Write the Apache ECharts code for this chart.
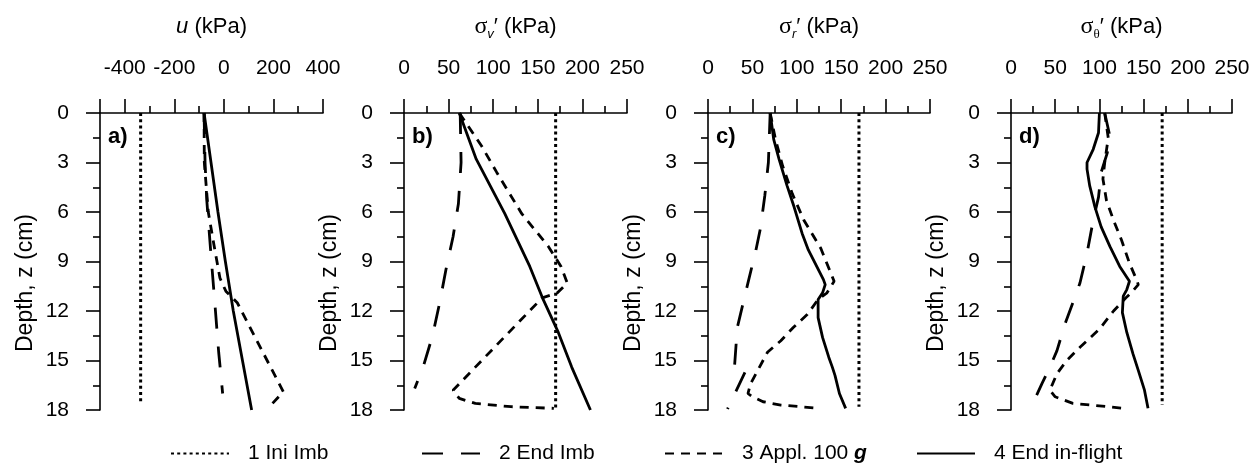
<!DOCTYPE html>
<html>
<head>
<meta charset="utf-8">
<script src="https://cdn.jsdelivr.net/npm/echarts@6/dist/echarts.min.js"></script>
<style>
html,body{margin:0;padding:0;background:#fff;}
#chart{width:1254px;height:463px;}
</style>
</head>
<body>
<div id="chart"></div>
<script>
// ---------- data ----------
const seriesNames = ['1 Ini Imb', '2 End Imb', '3 Appl. 100 g', '4 End in-flight'];
const panelLetters = ['a)', 'b)', 'c)', 'd)'];

// Panel a: pore pressure u (kPa)
const aIniDepth = [0, 17.6];
const aIniVal = [-336, -336];
const aEndDepth = [0, 3, 5.3, 9, 12, 14.5, 17];
const aEndVal = [-80, -76, -69, -50, -34, -21, -5];
const aApplDepth = [0, 3, 6, 8, 10, 10.8, 11.5, 16.9, 17.7];
const aApplVal = [-80, -79, -63, -40, -16, 8, 54, 240, 190];
const aFlightDepth = [0, 3, 6, 9, 12, 15, 18];
const aFlightVal = [-80, -52, -24, 6, 38, 75, 112];

// Panel b: sigma_v' (kPa)
const bIniDepth = [0, 17.9];
const bIniVal = [170, 170];
const bEndDepth = [0, 3, 5.5, 7.5, 9.5, 11.5, 13.5, 15.3, 16.7];
const bEndVal = [63, 64, 61, 55, 47, 40, 32, 22, 12];
const bApplDepth = [0, 2, 3.6, 6.1, 8.1, 9.3, 10.3, 10.9, 11.2, 16.8, 17.3, 17.6, 17.8, 17.9];
const bApplVal = [62, 87, 104, 132, 162, 176, 183, 172, 155, 55, 62, 80, 120, 168];
const bFlightDepth = [0, 2.8, 6.1, 9.3, 11.3, 13.3, 15.4, 18];
const bFlightVal = [62, 81, 113, 141, 156, 173, 188, 209];

// Panel c: sigma_r' (kPa)
const cIniDepth = [0, 17.8];
const cIniVal = [170, 170];
const cEndDepth = [0, 3, 5, 7, 8.3, 10.3, 13, 15.27, 15.45, 17.94];
const cEndVal = [70, 68, 64, 59, 54, 45, 33, 30, 44, 22];
const cApplDepth = [0, 1.6, 3.2, 4.9, 6.5, 8.2, 10.2, 10.9, 11.3, 12.2, 13, 13.8, 14.5, 15.4, 16.4, 17, 17.2, 17.5, 17.7, 17.9];
const cApplVal = [70, 76, 84, 95, 108, 127, 142, 134, 124, 112, 96, 82, 67, 58, 48, 45, 50, 62, 82, 126];
const cFlightDepth = [0, 1.6, 2.8, 4.4, 5.7, 7.3, 8.3, 10.1, 10.4, 10.9, 11.3, 12.4, 13.6, 14.8, 15.4, 15.9, 17, 17.9];
const cFlightVal = [70, 74, 80, 89, 97, 106, 113, 130, 132, 129, 124, 124, 129, 136, 140, 143, 148, 155];

// Panel d: sigma_theta' (kPa)
const dIniDepth = [0, 17.7];
const dIniVal = [171, 171];
const dEndDepth = [0, 1.2, 2.4, 3.6, 5.1, 6.5, 8.5, 10.3, 11.5, 12.8, 14.4, 15.4, 16.4, 17.8];
const dEndVal = [106, 111, 109, 102, 99, 93, 86, 78, 70, 61, 52, 44, 35, 23];
const dApplDepth = [0, 1.5, 3, 4, 5.3, 6.5, 7.7, 9.1, 10.1, 10.4, 10.9, 11.2, 12, 13.1, 14.2, 15, 15.8, 16.8, 17.2, 17.6, 17.7, 17.9];
const dApplVal = [106, 110, 106, 104, 108, 116, 125, 134, 142, 144, 136, 130, 116, 100, 78, 63, 52, 44, 50, 70, 91, 127];
const dFlightDepth = [0, 1.2, 2.2, 3.0, 3.4, 4.4, 5.7, 6.9, 8.1, 9.3, 10.2, 10.7, 11.1, 12.1, 13.3, 14.6, 15.6, 16.8, 17.9];
const dFlightVal = [100, 99, 93, 86, 86, 89, 95, 102, 112, 123, 134, 131, 127, 126, 131, 138, 144, 151, 155];

// axis ticks
const uLabelTicks = [-400, -200, 0, 200, 400];
const uMajorTicks = [-500, -400, -200, 0, 200, 400];
const uMinorTicks = [-300, -100, 100, 300];

// ---------- build ----------
const FONT = 'Liberation Sans, Arial, sans-serif';
const panels = [
  [[aIniVal, aIniDepth], [aEndVal, aEndDepth], [aApplVal, aApplDepth], [aFlightVal, aFlightDepth]],
  [[bIniVal, bIniDepth], [bEndVal, bEndDepth], [bApplVal, bApplDepth], [bFlightVal, bFlightDepth]],
  [[cIniVal, cIniDepth], [cEndVal, cEndDepth], [cApplVal, cApplDepth], [cFlightVal, cFlightDepth]],
  [[dIniVal, dIniDepth], [dEndVal, dEndDepth], [dApplVal, dApplDepth], [dFlightVal, dFlightDepth]]
];
const gridLeft = [100, 404, 708, 1011];
const gridWidth = [223, 223, 222, 221];
const GTOP = 113, GH = 297;

const lineStyles = [
  {type: [3, 3.2], width: 3},
  {type: [21, 18], width: 2.8},
  {type: [9, 7], width: 2.8},
  {type: 'solid', width: 2.8}
];

const titleRich = {
  n: {fontFamily: FONT, fontSize: 22, color: '#000', lineHeight: 28, verticalAlign: 'middle'},
  i: {fontFamily: FONT, fontSize: 22, fontStyle: 'italic', color: '#000', lineHeight: 28, verticalAlign: 'middle'},
  s: {fontFamily: 'Liberation Serif, serif', fontSize: 24, color: '#000', lineHeight: 28, verticalAlign: 'middle'},
  sub: {fontFamily: FONT, fontSize: 13, fontStyle: 'italic', color: '#000', lineHeight: 13, verticalAlign: 'bottom'},
  subn: {fontFamily: 'Liberation Serif, serif', fontSize: 13, color: '#000', lineHeight: 13, verticalAlign: 'bottom'}
};
const titles = [
  '{i|u}{n| (kPa)}',
  '{s|σ}{sub|v}{n|′ (kPa)}',
  '{s|σ}{sub|r}{n|′ (kPa)}',
  '{s|σ}{subn|θ}{n|′ (kPa)}'
];

const grids = [], xAxes = [], yAxes = [], series = [], graphics = [];
const axisLine = {show: true, onZero: false, lineStyle: {color: '#000', width: 1.6}};
const labelStyle = {color: '#000', fontFamily: FONT, fontSize: 21};

for (let p = 0; p < 4; p++) {
  grids.push({left: gridLeft[p], top: GTOP, width: gridWidth[p], height: GH});
  const nameOpt = {
    name: titles[p], nameLocation: 'middle', nameGap: 72,
    nameTextStyle: {rich: titleRich}
  };
  if (p === 0) {
    xAxes.push(Object.assign({
      type: 'value', gridIndex: 0, position: 'top', min: -500, max: 400, interval: 100,
      axisLine: axisLine,
      axisTick: {show: true, length: 14, inside: false, customValues: uMajorTicks, lineStyle: {color: '#000', width: 1.6}},
      axisLabel: Object.assign({margin: 34, customValues: uLabelTicks}, labelStyle),
      splitLine: {show: false}
    }, nameOpt));
    xAxes.push({
      type: 'value', gridIndex: 0, position: 'top', min: -500, max: 400, interval: 100,
      axisLine: {show: false},
      axisTick: {show: true, length: 7, customValues: uMinorTicks, lineStyle: {color: '#000', width: 1.6}},
      axisLabel: {show: false},
      splitLine: {show: false}
    });
  } else {
    xAxes.push(Object.assign({
      type: 'value', gridIndex: p, position: 'top', min: 0, max: 250, interval: 50,
      axisLine: axisLine,
      axisTick: {show: true, length: 14, lineStyle: {color: '#000', width: 1.6}},
      minorTick: {show: true, splitNumber: 2, length: 7, lineStyle: {color: '#000', width: 1.6}},
      axisLabel: Object.assign({margin: 34}, labelStyle),
      splitLine: {show: false}, minorSplitLine: {show: false}
    }, nameOpt));
  }
  yAxes.push({
    type: 'value', gridIndex: p, inverse: true, min: 0, max: 18, interval: 3,
    axisLine: axisLine,
    axisTick: {show: true, length: 14, lineStyle: {color: '#000', width: 1.6}},
    minorTick: {show: true, splitNumber: 2, length: 7, lineStyle: {color: '#000', width: 1.6}},
    axisLabel: Object.assign({margin: 31}, labelStyle),
    splitLine: {show: false}, minorSplitLine: {show: false}
  });
  const xIdx = p === 0 ? 0 : p + 1;
  panels[p].forEach((pair, k) => {
    const vals = pair[0], deps = pair[1];
    series.push({
      type: 'line', name: seriesNames[k], xAxisIndex: xIdx, yAxisIndex: p,
      symbol: 'none', showSymbol: false, clip: false, animation: false,
      lineStyle: {color: '#000', width: lineStyles[k].width, type: lineStyles[k].type, cap: 'butt'},
      itemStyle: {color: '#000'},
      emphasis: {disabled: true},
      data: vals.map((v, j) => [v, deps[j]])
    });
  });
  // y axis name
  graphics.push({
    type: 'text', x: gridLeft[p] - 74, y: 283, rotation: Math.PI / 2,
    style: {text: 'Depth, z (cm)', font: '23px ' + FONT, fill: '#000',
      textAlign: 'center', textVerticalAlign: 'middle', align: 'center', verticalAlign: 'middle'}
  });
  // panel letter
  graphics.push({
    type: 'text', x: gridLeft[p] + 8, y: 137,
    style: {text: panelLetters[p], font: 'bold 22px ' + FONT, fill: '#000',
      textAlign: 'left', textVerticalAlign: 'middle', align: 'left', verticalAlign: 'middle'}
  });
}

const legendLefts = [170, 421, 664, 916];
const legends = seriesNames.map((n, k) => ({
  data: [n], left: legendLefts[k], top: 443, padding: 0,
  itemWidth: 58, itemHeight: 14, selectedMode: false,
  itemStyle: {opacity: 0},
  formatter: function (name) {
    if (name === '3 Appl. 100 g') return '{t|3 Appl. 100 }{g|g}';
    return '{t|' + name + '}';
  },
  textStyle: {
    color: '#000', fontFamily: FONT, fontSize: 21, lineHeight: 20,
    rich: {
      t: {color: '#000', fontFamily: FONT, fontSize: 21, padding: [0, 0, 0, 14]},
      g: {color: '#000', fontFamily: FONT, fontSize: 21, fontWeight: 'bold', fontStyle: 'italic'}
    }
  }
}));

const chart = echarts.init(document.getElementById('chart'), null, {renderer: 'canvas'});
chart.setOption({
  animation: false,
  backgroundColor: '#fff',
  grid: grids,
  xAxis: xAxes,
  yAxis: yAxes,
  legend: legends,
  series: series,
  graphic: graphics
});
</script>
</body>
</html>
